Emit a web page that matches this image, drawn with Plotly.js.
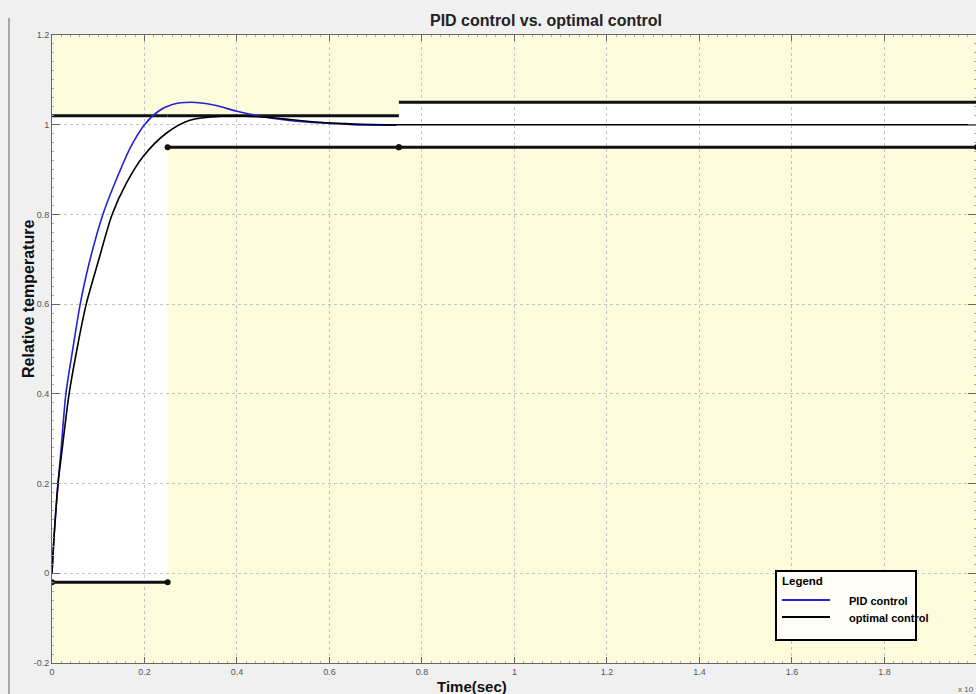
<!DOCTYPE html>
<html>
<head>
<meta charset="utf-8">
<script src="https://cdn.plot.ly/plotly-3.0.1.min.js"></script>
<style>html,body{margin:0;padding:0;background:#f0f0f0;}#chart{width:976px;height:694px;}</style>
</head>
<body>
<div id="chart"></div>
<script>
// ---- data ----
const pidTime = [0, 0.005, 0.013, 0.02, 0.03, 0.045, 0.061, 0.08, 0.11, 0.14, 0.17, 0.2, 0.23, 0.26, 0.3, 0.35, 0.4, 0.45, 0.5, 0.55, 0.6, 0.65, 0.7, 0.745];
const pidTemp = [0, 0.09, 0.2, 0.28, 0.4, 0.5, 0.6, 0.69, 0.8, 0.88, 0.95, 1.0, 1.03, 1.045, 1.05, 1.044, 1.03, 1.019, 1.011, 1.006, 1.003, 1.0, 0.999, 0.999];

const optTime = [0, 0.005, 0.013, 0.02, 0.037, 0.055, 0.074, 0.1, 0.13, 0.16, 0.197, 0.247, 0.298, 0.367, 0.42, 0.47, 0.52, 0.57, 0.62, 0.67, 0.72, 2.0];
const optTemp = [0, 0.09, 0.2, 0.26, 0.4, 0.505, 0.6, 0.695, 0.8, 0.868, 0.929, 0.981, 1.01, 1.019, 1.019, 1.016, 1.011, 1.006, 1.003, 1.001, 1.0, 1.0];

// constraint intervals
const boundTimes = [0, 0.25, 0.75, 2.0];
const lowerBound = [-0.02, 0.95, 0.95];
const upperBound = [1.02, 1.02, 1.05];

const seriesNames = ['PID control', 'optimal control'];
const seriesColors = ['#2323d2', '#000000'];

const xTickVals = [0, 0.2, 0.4, 0.6, 0.8, 1, 1.2, 1.4, 1.6, 1.8];
const xTickText = ['0', '0.2', '0.4', '0.6', '0.8', '1', '1.2', '1.4', '1.6', '1.8'];
const yTickVals = [-0.2, 0, 0.2, 0.4, 0.6, 0.8, 1, 1.2];
const yTickText = ['-0.2', '0', '0.2', '0.4', '0.6', '0.8', '1', '1.2'];

// ---- build traces ----
const traces = [];
for (let i = 0; i < boundTimes.length - 1; i++) {
  traces.push({x: [boundTimes[i], boundTimes[i+1]], y: [lowerBound[i], lowerBound[i]], mode: 'lines+markers',
    line: {color: '#111', width: 3}, marker: {color: '#111', size: 6, symbol: 'circle'}, showlegend: false, hoverinfo: 'skip'});
  traces.push({x: [boundTimes[i], boundTimes[i+1]], y: [upperBound[i], upperBound[i]], mode: 'lines',
    line: {color: '#111', width: 3}, showlegend: false, hoverinfo: 'skip'});
}
traces.push({x: pidTime, y: pidTemp, mode: 'lines', name: seriesNames[0], showlegend: false,
  line: {color: seriesColors[0], width: 1.6, shape: 'spline', smoothing: 0.8}});
traces.push({x: optTime, y: optTemp, mode: 'lines', name: seriesNames[1], showlegend: false,
  line: {color: seriesColors[1], width: 1.6, shape: 'spline', smoothing: 0.8}});

// white feasible region path (data coordinates)
let path = 'M ' + boundTimes[0] + ',' + upperBound[0];
for (let i = 0; i < upperBound.length; i++) {
  path += ' L ' + boundTimes[i] + ',' + upperBound[i] + ' L ' + boundTimes[i+1] + ',' + upperBound[i];
}
for (let i = lowerBound.length - 1; i >= 0; i--) {
  path += ' L ' + boundTimes[i+1] + ',' + lowerBound[i] + ' L ' + boundTimes[i] + ',' + lowerBound[i];
}
path += ' Z';

const fontFam = 'Liberation Sans, Arial, sans-serif';
// pixel -> paper helpers (plot area: x 52..976, y 35..663)
const px = p => (p - 52) / 924;
const py = p => (663 - p) / 628;

const shapes = [
  {type: 'path', xref: 'x', yref: 'y', path: path, fillcolor: '#ffffff', line: {width: 0}, layer: 'below'},
  {type: 'line', xref: 'paper', yref: 'paper', x0: px(9), x1: px(9), y0: py(18), y1: py(700), line: {color: '#a8a8a8', width: 2}},
  // legend box
  {type: 'rect', xref: 'paper', yref: 'paper', x0: px(776), x1: px(916), y0: py(571), y1: py(640),
   fillcolor: '#fefef6', line: {color: '#000', width: 2}}
];
const annotations = [
  {text: '<b>PID control vs. optimal control</b>', xref: 'paper', yref: 'paper', x: px(546), y: py(20),
   xanchor: 'center', yanchor: 'middle', showarrow: false, font: {size: 16, color: '#222', family: fontFam}},
  {text: '<b>Time(sec)</b>', xref: 'paper', yref: 'paper', x: px(472), y: py(686),
   xanchor: 'center', yanchor: 'middle', showarrow: false, font: {size: 15, color: '#111', family: fontFam}},
  {text: '<b>Relative temperature</b>', xref: 'paper', yref: 'paper', x: px(28), y: py(299),
   xanchor: 'center', yanchor: 'middle', showarrow: false, textangle: -90, font: {size: 16, color: '#111', family: fontFam}},
  {text: 'x 10', xref: 'paper', yref: 'paper', x: px(966), y: py(689),
   xanchor: 'center', yanchor: 'middle', showarrow: false, font: {size: 8, color: '#555', family: fontFam}},
  {text: '<b>Legend</b>', xref: 'paper', yref: 'paper', x: px(780), y: py(581),
   xanchor: 'left', yanchor: 'middle', showarrow: false, font: {size: 11.5, color: '#000', family: fontFam}}
];
const legendRows = [600, 617];
seriesNames.forEach((nm, i) => {
  shapes.push({type: 'line', xref: 'paper', yref: 'paper', x0: px(782), x1: px(830), y0: py(legendRows[i]), y1: py(legendRows[i]),
    line: {color: seriesColors[i], width: 2}});
  annotations.push({text: '<b>' + nm + '</b>', xref: 'paper', yref: 'paper', x: px(847), y: py(legendRows[i] + 1),
    xanchor: 'left', yanchor: 'middle', showarrow: false, font: {size: 11, color: '#000', family: fontFam}});
});

const layout = {
  width: 976, height: 694,
  paper_bgcolor: '#f0f0f0',
  plot_bgcolor: '#fcfcdc',
  margin: {l: 52, r: 0, t: 35, b: 31},
  font: {family: fontFam, color: '#222'},
  showlegend: false,
  xaxis: {
    range: [0, 1.998], tickvals: xTickVals, ticktext: xTickText,
    showgrid: true, gridcolor: '#c4c4c4', griddash: 'dot', gridwidth: 1,
    zeroline: false, showline: true, linecolor: '#666', linewidth: 1, mirror: 'ticks',
    ticks: 'inside', ticklen: 6, tickcolor: '#666',
    tickfont: {size: 9, color: '#555', family: fontFam},
    minor: {dtick: 0.02, ticks: 'inside', ticklen: 2, tickcolor: '#aaa', showgrid: false}
  },
  yaxis: {
    range: [-0.2, 1.2], tickvals: yTickVals, ticktext: yTickText,
    showgrid: true, gridcolor: '#c4c4c4', griddash: 'dot', gridwidth: 1,
    zeroline: false, showline: true, linecolor: '#666', linewidth: 1, mirror: 'ticks',
    ticks: 'inside', ticklen: 8, tickcolor: '#666',
    tickfont: {size: 9, color: '#555', family: fontFam},
    minor: {dtick: 0.02, ticks: 'inside', ticklen: 2, tickcolor: '#aaa', showgrid: false}
  },
  shapes: shapes,
  annotations: annotations
};

Plotly.newPlot('chart', traces, layout, {displayModeBar: false, staticPlot: true});
</script>
</body>
</html>
